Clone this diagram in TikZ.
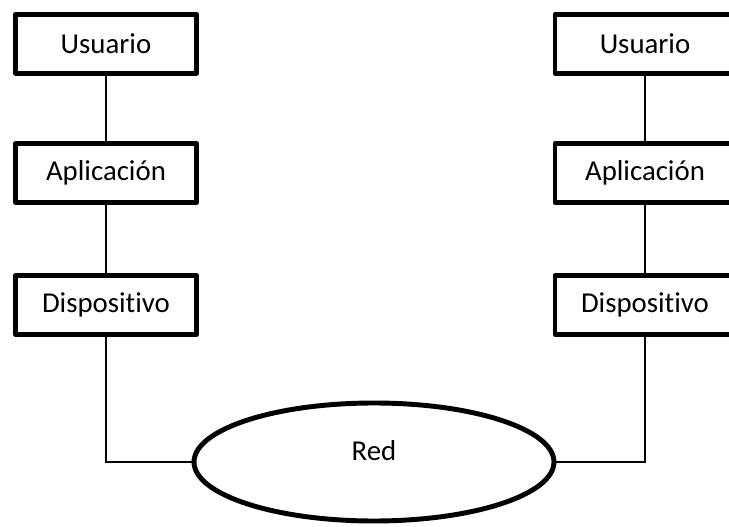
\documentclass[tikz,border=0pt]{standalone}
\usepackage{fontspec}
\setmainfont{Carlito}[Ligatures=NoCommon]
\usetikzlibrary{shapes.geometric}
\begin{document}
\begin{tikzpicture}[x=0.75pt,y=-0.75pt,
  layerbox/.style={draw, line width=3.5pt, line join=round, fill=white,
    minimum width=135.75pt, minimum height=44.25pt, inner sep=0pt, outer sep=0pt,
    font=\fontsize{21.6}{26}\selectfont},
  netshape/.style={ellipse, draw, line width=3.7pt, fill=white,
    minimum width=270pt, minimum height=88.5pt, inner sep=0pt, outer sep=0pt},
  link/.style={draw, line width=1pt}]
  \useasboundingbox (0,0) rectangle (729,527);

  % left stack
  \node[layerbox] (u1) at (106,43.7) {Usuario};
  \node[layerbox] (a1) at (106,173) {Aplicación};
  \node[layerbox] (d1) at (106,305) {Dispositivo};

  % right stack
  \node[layerbox, minimum width=135pt] (u2) at (645,43.7) {Usuario};
  \node[layerbox, minimum width=135pt] (a2) at (645,173) {Aplicación};
  \node[layerbox, minimum width=135pt] (d2) at (645,305) {Dispositivo};

  % network
  \node[netshape, label={[yshift=8.25pt, font=\fontsize{21.6}{26}\selectfont]center:Red}] (net) at (374,462) {};

  % links
  \draw[link] (u1) -- (a1);
  \draw[link] (a1) -- (d1);
  \draw[link] (u2) -- (a2);
  \draw[link] (a2) -- (d2);
  \draw[link] (d1.south) |- (net.west);
  \draw[link] (d2.south) |- (net.east);
\end{tikzpicture}
\end{document}
